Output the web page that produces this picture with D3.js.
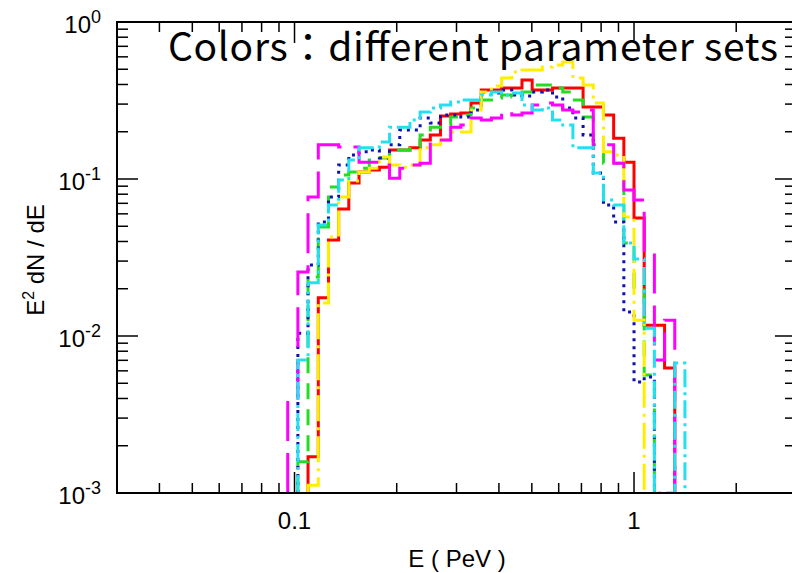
<!DOCTYPE html>
<html><head><meta charset="utf-8">
<script src="https://cdn.jsdelivr.net/npm/d3@7"></script>
<style>body{margin:0;background:#fff}svg{display:block}</style>
</head><body><svg id="c" width="792" height="573"></svg>
<script>
// Bin edges in PeV (log-spaced histogram bins)
const binEdges = [0.0955,0.1023,0.1096,0.1175,0.1259,0.1349,0.1445,0.1549,0.1660,0.1778,
  0.1905,0.2042,0.2188,0.2344,0.2512,0.2692,0.2884,0.3090,0.3311,0.3548,
  0.3802,0.4074,0.4365,0.4677,0.5012,0.5370,0.5754,0.6166,0.6607,0.7079,
  0.7586,0.8128,0.8710,0.9333,1.0000,1.0715,1.1482,1.2303,1.3183,1.4125];

// E^2 dN/dE per bin for each parameter set (0 = empty bin)
const redSet = [0,0,0.0017,0.0175,0.0409,0.0644,0.0943,0.111,0.114,0.119,0.153,0.153,0.158,0.177,0.191,0.252,0.259,0.263,0.305,0.369,0.369,0.380,0.380,0.427,0.369,0.369,0.380,0.380,0.380,0.287,0.287,0.256,0.182,0.128,0.0564,0.0117,0.0117,0.00625,0];
const yellowSet = [0,0,0.00112,0.0162,0.0427,0.0768,0.0971,0.111,0.117,0.138,0.123,0.119,0.123,0.158,0.165,0.177,0.199,0.199,0.275,0.358,0.391,0.440,0.480,0.494,0.494,0.517,0.532,0.556,0.440,0.397,0.305,0.149,0.142,0.0573,0.0126,0,0,0,0];
const greenSet = [0,0.00158,0.0238,0.0494,0.0889,0.106,0.111,0.117,0.132,0.136,0.153,0.153,0.160,0.191,0.214,0.221,0.248,0.256,0.283,0.319,0.328,0.343,0.333,0.358,0.397,0.397,0.380,0.358,0.319,0.248,0.165,0.126,0.126,0.0391,0.0196,0.00564,0,0,0];
const blueSet = [0,0.0104,0.0283,0.0532,0.0768,0.123,0.142,0.149,0.153,0.136,0.165,0.205,0.205,0.245,0.227,0.256,0.256,0.248,0.275,0.358,0.353,0.369,0.343,0.338,0.358,0.369,0.333,0.283,0.245,0.191,0.109,0.0683,0.0532,0.0142,0.00509,0.00548,0,0,0];
const magentaSet = [0.00391,0.0256,0.0768,0.165,0.165,0.160,0.160,0.128,0.128,0.123,0.101,0.117,0.123,0.126,0.177,0.177,0.214,0.221,0.245,0.238,0.245,0.267,0.256,0.263,0.296,0.305,0.296,0.275,0.267,0.275,0.165,0.165,0.126,0.0851,0.0735,0.0328,0.00703,0.0126,0];
const cyanSet = [0,0.00703,0.0218,0.0509,0.0683,0.0985,0.132,0.158,0.158,0.172,0.214,0.214,0.238,0.267,0.283,0.296,0.309,0.319,0.319,0.343,0.358,0.343,0.353,0.296,0.275,0.283,0.238,0.221,0.158,0.158,0.109,0.0735,0.0683,0.0391,0.0309,0.0112,0,0,0.00673];

const xMajor = [0.1, 1];
const xMajorLabels = ["0.1", "1"];
const xMinor = [0.04,0.05,0.06,0.07,0.08,0.09,0.2,0.3,0.4,0.5,0.6,0.7,0.8,0.9,2];
const yMajor = [1, 0.1, 0.01, 0.001];
const yMajorExp = ["0", "-1", "-2", "-3"];
const yMinor = [0.002,0.003,0.004,0.005,0.006,0.007,0.008,0.009,
  0.02,0.03,0.04,0.05,0.06,0.07,0.08,0.09,0.2,0.3,0.4,0.5,0.6,0.7,0.8,0.9];

const series = [
  {vals: redSet,     color: "#ff0000", dash: null},
  {vals: greenSet,   color: "#22dd22", dash: "16,10"},
  {vals: blueSet,    color: "#1010b0", dash: "3,5"},
  {vals: yellowSet,  color: "#ffee00", dash: "26,6,3,6"},
  {vals: magentaSet, color: "#ff00ff", dash: "40,12"},
  {vals: cyanSet,    color: "#22e0f0", dash: "18,5,3,5"}
];

const L = 117, R = 796, T = 22, B = 493;
const x = d3.scaleLog().domain([0.03, 3]).range([L, R]);
const y = d3.scaleLog().domain([1e-3, 1]).range([B, T]);

const svg = d3.select("#c");
svg.append("defs").append("clipPath").attr("id", "clip")
  .append("rect").attr("x", L).attr("y", T).attr("width", R - L).attr("height", B - T);

const gH = svg.append("g").attr("clip-path", "url(#clip)");
const line = d3.line().x(d => x(d[0])).y(d => d[1] > 0 ? y(d[1]) : B);

series.forEach(s => {
  const v = s.vals;
  let first = v.findIndex(d => d > 0);
  let last = v.length - 1; while (last >= 0 && !(v[last] > 0)) last--;
  const pts = [[binEdges[first], 0]];
  for (let i = first; i <= last; i++) {
    pts.push([binEdges[i], v[i]]);
    pts.push([binEdges[i + 1], v[i]]);
  }
  pts.push([binEdges[last + 1], 0]);
  gH.append("path").attr("d", line(pts))
    .attr("fill", "none").attr("stroke", s.color).attr("stroke-width", 3)
    .attr("stroke-dasharray", s.dash).attr("stroke-linejoin", "miter");
});

// Frame and ticks
const gA = svg.append("g").attr("stroke", "#000");
gA.append("rect").attr("x", L).attr("y", T).attr("width", R - L).attr("height", B - T)
  .attr("fill", "none").attr("stroke-width", 2);

function xticks(vals, len) {
  vals.forEach(v => {
    const px = x(v);
    gA.append("line").attr("x1", px).attr("x2", px).attr("y1", B).attr("y2", B - len).attr("stroke-width", 1.5);
    gA.append("line").attr("x1", px).attr("x2", px).attr("y1", T).attr("y2", T + len).attr("stroke-width", 1.5);
  });
}
function yticks(vals, len) {
  vals.forEach(v => {
    const py = y(v);
    gA.append("line").attr("x1", L).attr("x2", L + len).attr("y1", py).attr("y2", py).attr("stroke-width", 1.5);
    gA.append("line").attr("x1", R).attr("x2", R - len).attr("y1", py).attr("y2", py).attr("stroke-width", 1.5);
  });
}
xticks(xMajor, 21); xticks(xMinor, 10);
yticks(yMajor, 21); yticks(yMinor, 11);

const font = "'Liberation Sans', Arial, Helvetica, sans-serif";
// X tick labels
xMajor.forEach((v, i) => {
  svg.append("text").attr("x", x(v)).attr("y", 529).attr("text-anchor", "middle")
    .attr("font-family", font).attr("font-size", 24).attr("fill", "#000").text(xMajorLabels[i]);
});
// Y tick labels
yMajor.forEach((v, i) => {
  const t = svg.append("text").attr("x", 101).attr("y", y(v) + 11).attr("text-anchor", "end")
    .attr("font-family", font).attr("font-size", 24).attr("fill", "#000");
  t.append("tspan").text("10");
  t.append("tspan").attr("dy", -10).attr("font-size", 18).text(yMajorExp[i]);
});
// Axis titles
svg.append("text").attr("x", 457).attr("y", 567).attr("text-anchor", "middle")
  .attr("font-family", font).attr("font-size", 24).attr("fill", "#000").text("E ( PeV )");
const yt = svg.append("text").attr("transform", "translate(44,260) rotate(-90)")
  .attr("text-anchor", "middle").attr("font-family", font).attr("font-size", 24).attr("fill", "#000");
yt.append("tspan").text("E");
yt.append("tspan").attr("dy", -10).attr("font-size", 16).text("2");
yt.append("tspan").attr("dy", 10).text(" dN / dE");

// Annotation title
svg.append("text").attr("x", 168).attr("y", 61)
  .attr("font-family", "'Noto Sans CJK JP', 'Noto Sans', sans-serif").attr("font-size", 39)
  .attr("textLength", 610).attr("lengthAdjust", "spacing")
  .attr("fill", "#000").text("Colors：different parameter sets");
</script></body></html>
